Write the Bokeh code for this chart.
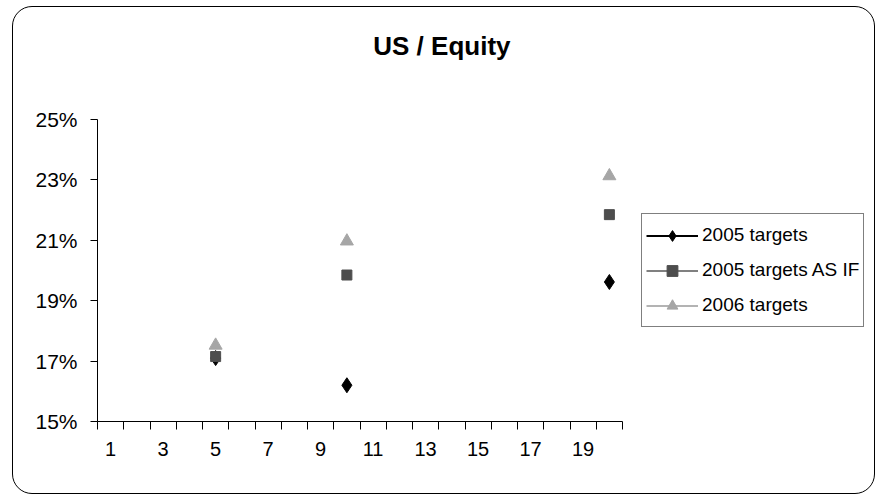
import pandas as pd
from bokeh.plotting import figure
from bokeh.models import (Range1d, FixedTicker, NumeralTickFormatter, Legend, LegendItem,
                          Label, ColumnDataSource, InlineStyleSheet)
from bokeh.embed import file_html
from bokeh.resources import INLINE

# ---- data ----
categories = list(range(1, 21))
x_values = [5, 10, 20]
targets_2005 = [0.1710, 0.1620, 0.1962]
targets_2005_asif = [0.1715, 0.1985, 0.2185]
targets_2006 = [0.1752, 0.2097, 0.2313]
x_tick_labels = [1, 3, 5, 7, 9, 11, 13, 15, 17, 19]
y_ticks = [0.15, 0.17, 0.19, 0.21, 0.23, 0.25]
series_names = ["2005 targets", "2005 targets AS IF", "2006 targets"]
chart_title = "US  / Equity"

FONT = "Liberation Sans"

# ---- layout (pixels) ----
W, H = 876, 495
AX_LEFT, AX_RIGHT, AX_TOP, AX_BOTTOM = 97, 622, 119, 421   # axis-area extents
TITLE_X, TITLE_Y = 445, 45
x_lo, x_hi = categories[0] - 0.5, categories[-1] + 0.5
y_lo, y_hi = y_ticks[0], y_ticks[-1]
# the frame extends to the right and top edges (room for legend and title);
# the axis lines are bounded to the real data area
px_per_x = (AX_RIGHT - AX_LEFT) / (x_hi - x_lo)
px_per_y = (AX_BOTTOM - AX_TOP) / (y_hi - y_lo)
x_frame_hi = x_lo + (W - AX_LEFT) / px_per_x
y_frame_hi = y_lo + AX_BOTTOM / px_per_y

p = figure(width=W, height=H, output_backend="svg", toolbar_location=None, title=None,
           x_range=Range1d(x_lo, x_frame_hi), y_range=Range1d(y_lo, y_frame_hi),
           min_border_left=AX_LEFT, min_border_right=0,
           min_border_top=0, min_border_bottom=H - AX_BOTTOM)
p.outline_line_color = None
p.xgrid.visible = False
p.ygrid.visible = False
p.background_fill_color = "white"
p.border_fill_color = "white"

p.add_layout(Label(x=x_lo + (TITLE_X - AX_LEFT) / px_per_x,
                   y=y_lo + (AX_BOTTOM - TITLE_Y) / px_per_y,
                   text=chart_title, text_align="center", text_baseline="middle",
                   text_font=FONT, text_font_size="26px", text_font_style="bold",
                   text_color="black"))

# x axis: category boundaries as ticks, labels at every other category
p.xaxis.bounds = (x_lo, x_hi)
p.xaxis.ticker = FixedTicker(ticks=x_tick_labels,
                             minor_ticks=[c - 0.5 for c in categories] + [x_hi])
p.xaxis.major_tick_out = 0
p.xaxis.major_tick_in = 0
p.xaxis.minor_tick_out = 8
p.xaxis.minor_tick_in = 0
p.xaxis.minor_tick_line_color = "black"
p.xaxis.axis_line_color = "black"
p.xaxis.major_label_text_font = FONT
p.xaxis.major_label_text_font_size = "20px"
p.xaxis.major_label_text_color = "black"
p.xaxis.major_label_standoff = 12

p.yaxis.bounds = (y_lo, y_hi)
p.yaxis.ticker = FixedTicker(ticks=y_ticks, minor_ticks=[])
p.yaxis.formatter = NumeralTickFormatter(format="0%")
p.yaxis.major_tick_out = 7
p.yaxis.major_tick_in = 0
p.yaxis.minor_tick_out = 0
p.yaxis.minor_tick_in = 0
p.yaxis.axis_line_color = "black"
p.yaxis.major_tick_line_color = "black"
p.yaxis.major_label_text_font = FONT
p.yaxis.major_label_text_font_size = "21px"
p.yaxis.major_label_text_color = "black"
p.yaxis.major_label_standoff = 13

styles = [
    dict(marker="diamond", size=15, fill="#000000", line="#000000"),
    dict(marker="square", size=10, fill="#4D4D4D", line="#808080"),
    dict(marker="triangle", size=13, fill="#A6A6A6", line="#B3B3B3"),
]

items = []
for name, vals, st in zip(series_names, [targets_2005, targets_2005_asif, targets_2006], styles):
    full = pd.Series(vals, index=x_values).reindex(categories)
    src = ColumnDataSource(dict(x=categories, y=full.values))
    lr = p.line("x", "y", source=src, line_color=st["line"], line_width=2)
    sr = p.scatter(x_values, vals, marker=st["marker"], size=st["size"],
                   fill_color=st["fill"], line_color=st["fill"], line_width=1)
    items.append(LegendItem(label=name, renderers=[lr, sr]))

legend = Legend(items=items, location=(641 - AX_LEFT, AX_BOTTOM - 327), orientation="vertical",
                label_text_font=FONT, label_text_font_size="19px", label_text_color="black",
                glyph_width=52, glyph_height=27, label_height=34, spacing=1,
                padding=4, margin=0, label_standoff=4,
                border_line_color="black", border_line_width=1,
                background_fill_color="white", background_fill_alpha=1)
p.add_layout(legend, "center")

# rounded chart-area border
p.stylesheets = [InlineStyleSheet(css=""":host { position: relative; }
:host::after { content: ""; position: absolute; left: 12px; top: 6px; right: 1px; bottom: 1px;
  border: 1.5px solid black; border-radius: 20px; pointer-events: none; }""")]

open("out.html", "w").write(file_html(p, INLINE))
